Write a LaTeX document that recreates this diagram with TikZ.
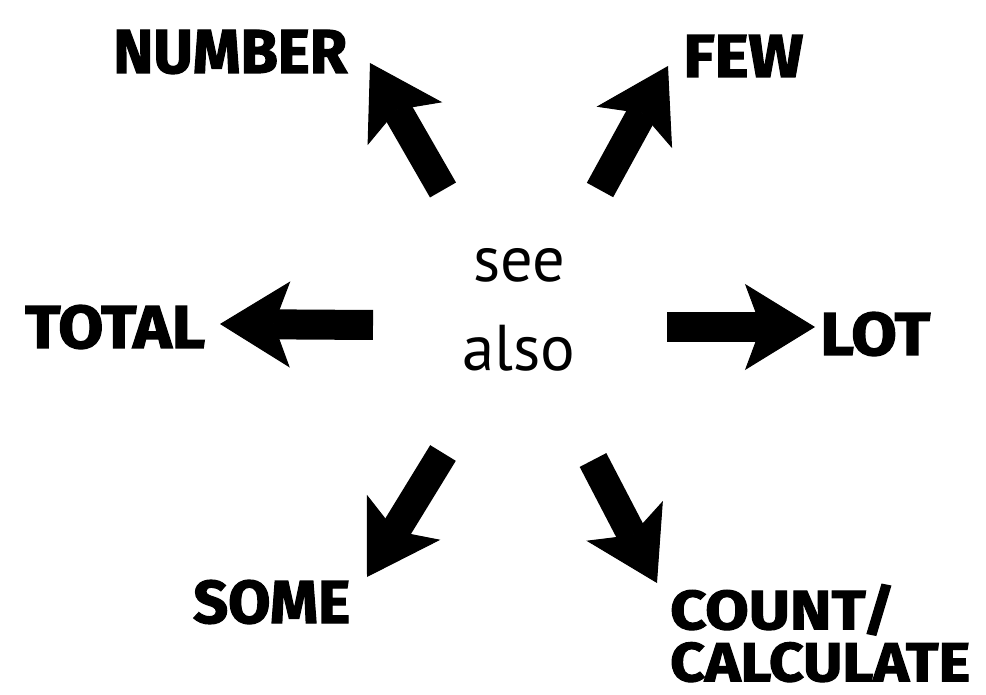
\documentclass[tikz,border=0pt]{standalone}
\usepackage{fontspec}
\usepackage{graphicx}
\usetikzlibrary{arrows.meta}
\newfontfamily\lblfont{Fira Sans}[BoldFeatures={FakeBold=2}]
\newfontfamily\seefont{PT Sans}
\newcommand\fitw[2]{\resizebox{#1}{!}{#2}}
\newcommand\fitwh[3]{\resizebox{#1}{#2}{#3}}
\tikzset{
  lbl/.style={inner sep=0pt, anchor=base west, font=\lblfont\bfseries\fontsize{62}{52}\selectfont},
  bigarrow/.style={line width=30pt, -{Stealth[length=70pt, width=86pt, inset=16pt, line width=1pt]}},
  centre/.style={inner sep=0pt, align=center, font=\seefont\fontsize{72}{89}\selectfont}
}
\begin{document}
\begin{tikzpicture}[x=1pt,y=-1pt]
\fill[white] (0,0) rectangle (986,695);
\useasboundingbox (0,0) rectangle (986,695);
% centre
\node[centre] (see) at (519,310) {\fitw{92pt}{see}\\\fitw{113pt}{also}};
% labels
\node[lbl] (number) at (113,73) {\fitwh{234pt}{43pt}{NUMBER}};
\node[lbl] (few) at (683,77) {\fitwh{120pt}{42pt}{FEW}};
\node[lbl] (total) at (25,348) {\fitwh{180pt}{43pt}{TOTAL}};
\node[lbl] (lot) at (820,355) {\fitwh{110pt}{43pt}{LOT}};
\node[lbl] (some) at (193,623) {\fitwh{157pt}{43pt}{SOME}};
\node[lbl, anchor=north west, align=left] (count) at (670,584) {\fitwh{225pt}{45pt}{COUNT/}\\\fitwh{300pt}{39pt}{CALCULATE}};
% arrow ends
\coordinate (tNumber) at (443,190); \coordinate (hNumber) at (370,63);
\coordinate (tFew) at (600,190);    \coordinate (hFew) at (668,66);
\coordinate (tTotal) at (373,325);  \coordinate (hTotal) at (220,324);
\coordinate (tLot) at (667,327);    \coordinate (hLot) at (815,327);
\coordinate (tSome) at (443,453);   \coordinate (hSome) at (367,577);
\coordinate (tCount) at (593,460);  \coordinate (hCount) at (657,583);
\draw[bigarrow] (tNumber) -- (hNumber);
\draw[bigarrow] (tFew) -- (hFew);
\draw[bigarrow] (tTotal) -- (hTotal);
\draw[bigarrow] (tLot) -- (hLot);
\draw[bigarrow] (tSome) -- (hSome);
\draw[bigarrow] (tCount) -- (hCount);
\end{tikzpicture}
\end{document}
